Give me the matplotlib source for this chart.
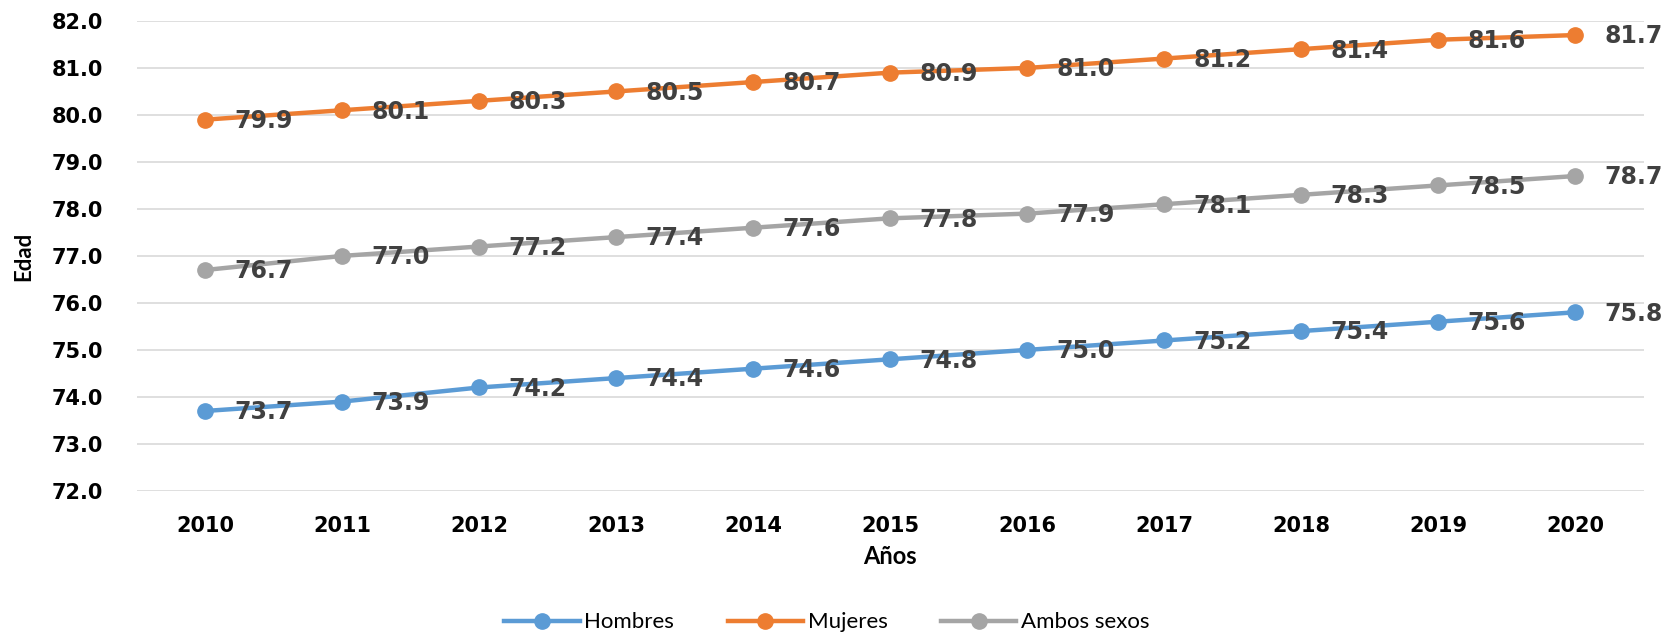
import matplotlib
matplotlib.use("Agg")
import matplotlib.pyplot as plt

years = [2010, 2011, 2012, 2013, 2014, 2015, 2016, 2017, 2018, 2019, 2020]
hombres = [73.7, 73.9, 74.2, 74.4, 74.6, 74.8, 75.0, 75.2, 75.4, 75.6, 75.8]
mujeres = [79.9, 80.1, 80.3, 80.5, 80.7, 80.9, 81.0, 81.2, 81.4, 81.6, 81.7]
ambos = [76.7, 77.0, 77.2, 77.4, 77.6, 77.8, 77.9, 78.1, 78.3, 78.5, 78.7]
y_ticks = [72, 73, 74, 75, 76, 77, 78, 79, 80, 81, 82]

series = [
    ("Hombres", hombres, "#5B9BD5"),
    ("Mujeres", mujeres, "#ED7D31"),
    ("Ambos sexos", ambos, "#A5A5A5"),
]

fig = plt.figure(figsize=(16.67, 6.35), dpi=100)
ax = fig.add_axes([0.082, 0.227, 0.904, 0.740])

x = list(range(len(years)))
for name, vals, color in series:
    ax.plot(x, vals, "-o", color=color, lw=3.2, ms=11, label=name, zorder=3)
    for xi, v in zip(x, vals):
        ax.annotate(f"{v:.1f}", (xi, v), xytext=(21, -1), textcoords="offset points",
                    ha="left", va="center", fontsize=17, fontweight="bold",
                    color="#404040", zorder=4)

ax.set_xlim(-0.5, len(years) - 0.5)
ax.set_ylim(72, 82)
ax.set_yticks(y_ticks)
ax.set_yticklabels([f"{t:.1f}" for t in y_ticks], fontsize=15, fontweight="bold")
ax.set_xticks(x)
ax.set_xticklabels([str(y) for y in years], fontsize=15, fontweight="bold")
ax.tick_params(axis="both", length=0, colors="black")
ax.tick_params(axis="y", pad=24)
ax.tick_params(axis="x", pad=18)
ax.grid(axis="y", color="#D9D9D9", lw=1.2)
ax.set_axisbelow(True)
for s in ax.spines.values():
    s.set_visible(False)

fig.text(0.534, 0.124, "Años", ha="center", va="center", fontsize=17,
         fontweight="bold", family="Lato")
fig.text(0.014, 0.597, "Edad", ha="center", va="center", rotation=90,
         fontsize=16, fontweight="bold", family="Lato")

leg = fig.legend(loc="center", bbox_to_anchor=(0.496, 0.02), ncol=3, frameon=False,
                 prop={"family": "Lato", "size": 16}, handlelength=3.4,
                 columnspacing=2.4, handletextpad=0.2)

fig.savefig("out.png", dpi=100, facecolor="white")
